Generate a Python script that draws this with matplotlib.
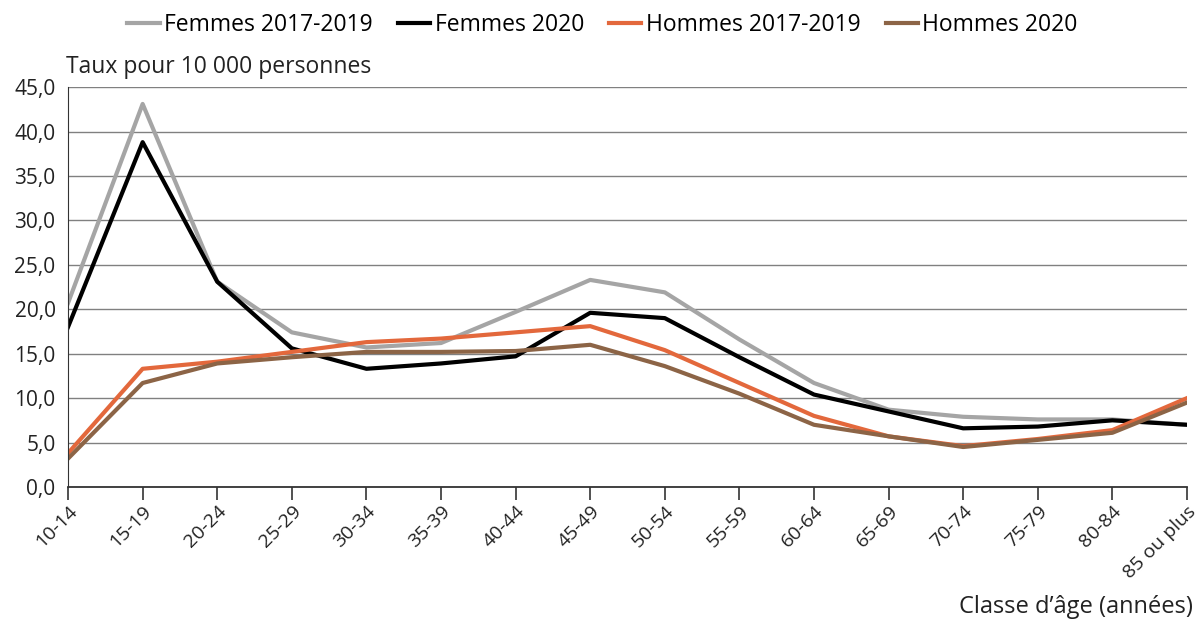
import matplotlib.pyplot as plt
import numpy as np

plt.rcParams['font.family'] = ['Open Sans', 'DejaVu Sans']

ages = ['10-14', '15-19', '20-24', '25-29', '30-34', '35-39', '40-44', '45-49',
        '50-54', '55-59', '60-64', '65-69', '70-74', '75-79', '80-84', '85 ou plus']

femmes_1719 = [20.7, 43.1, 23.1, 17.4, 15.7, 16.2, 19.7, 23.3, 21.9, 16.6, 11.7, 8.7, 7.9, 7.6, 7.6, 7.0]
femmes_2020 = [18.0, 38.8, 23.1, 15.6, 13.3, 13.9, 14.7, 19.6, 19.0, 14.6, 10.4, 8.5, 6.6, 6.8, 7.5, 7.0]
hommes_1719 = [3.8, 13.3, 14.1, 15.2, 16.3, 16.7, 17.4, 18.1, 15.4, 11.7, 8.0, 5.7, 4.6, 5.4, 6.4, 10.0]
hommes_2020 = [3.2, 11.7, 13.9, 14.6, 15.2, 15.2, 15.3, 16.0, 13.6, 10.5, 7.0, 5.7, 4.5, 5.3, 6.1, 9.5]

fig = plt.figure(figsize=(11.98, 6.21), dpi=100)
ax = fig.add_axes([0.0568, 0.2158, 0.934, 0.644])

x = np.arange(len(ages))
ax.plot(x, femmes_1719, color='#A5A5A5', lw=3, label='Femmes 2017-2019')
ax.plot(x, femmes_2020, color='#000000', lw=3, label='Femmes 2020')
ax.plot(x, hommes_1719, color='#E3683C', lw=3, label='Hommes 2017-2019')
ax.plot(x, hommes_2020, color='#8C6446', lw=3, label='Hommes 2020')

ax.set_xlim(0, len(ages) - 1)
ax.set_ylim(0, 45)
yt = np.arange(0, 46, 5)
ax.set_yticks(yt)
ax.set_yticklabels([f'{v:.1f}'.replace('.', ',') for v in yt], fontsize=15, color='#222222')
ax.set_xticks(x)
ax.set_xticklabels(ages, rotation=45, ha='right', rotation_mode='anchor', fontsize=14, color='#222222')
ax.tick_params(axis='y', length=0, pad=9)
ax.tick_params(axis='x', length=9, width=1.2, color='#333333', pad=2)

ax.grid(axis='y', color='#808080', lw=1)
ax.set_axisbelow(True)
for s in ['top', 'right']:
    ax.spines[s].set_visible(False)
ax.spines['left'].set_color('#333333')
ax.spines['bottom'].set_color('#333333')
ax.spines['bottom'].set_linewidth(1.3)

fig.text(0.055, 0.873, 'Taux pour 10 000 personnes', fontsize=16.5, color='#222222', va='bottom')
fig.text(0.996, 0.003, "Classe d\u2019âge (années)", fontsize=17, color='#222222', ha='right', va='bottom')

fig.legend(loc='upper center', bbox_to_anchor=(0.503, 1.012), ncol=4, frameon=False,
           fontsize=16.5, handlelength=1.4, handletextpad=0.2, columnspacing=1.1)

fig.savefig('out.png', dpi=100)
